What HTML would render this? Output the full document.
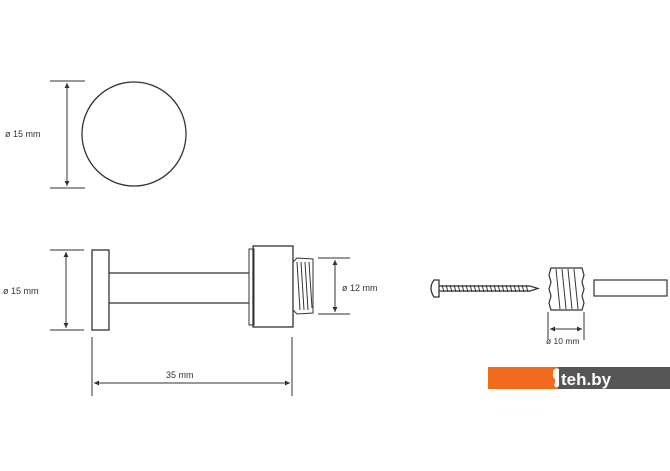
<!DOCTYPE html>
<html><head><style>
html,body{margin:0;padding:0;background:#fff;width:670px;height:471px;overflow:hidden}
svg{display:block}
text{font-family:"Liberation Sans",sans-serif;fill:#333}
</style></head><body>
<svg width="670" height="471" viewBox="0 0 670 471" xmlns="http://www.w3.org/2000/svg">
<defs>
<marker id="a" viewBox="0 0 6 6" refX="6" refY="3" markerWidth="5" markerHeight="5" orient="auto-start-reverse"><path d="M0,0L6,3L0,6z" fill="#333"/></marker>
</defs>
<g stroke="#333" fill="none" stroke-width="1">
<circle cx="134" cy="134" r="52" stroke-width="1.3"/>
<line x1="50" y1="81" x2="85" y2="81"/>
<line x1="50" y1="188" x2="85" y2="188"/>
<line x1="67" y1="83" x2="67" y2="186" marker-start="url(#a)" marker-end="url(#a)"/>
<rect x="92" y="250" width="17" height="80" stroke-width="1.3"/>
<line x1="109" y1="273" x2="249" y2="273" stroke-width="1.3"/>
<line x1="109" y1="303" x2="249" y2="303" stroke-width="1.3"/>
<rect x="249" y="249" width="5" height="76"/>
<rect x="253" y="246" width="40" height="81" stroke-width="1.3"/>
<path d="M293,262 L297,258 L313,259 L313,313 L297,314 L293,310 Z"/>
<path d="M297,262 L300,310 M301,262 L304,310 M305,262 L308,310 M309,262 L312,308"/>
<line x1="50" y1="250" x2="84" y2="250"/>
<line x1="50" y1="330" x2="84" y2="330"/>
<line x1="66" y1="252" x2="66" y2="328" marker-start="url(#a)" marker-end="url(#a)"/>
<line x1="318" y1="258" x2="350" y2="258"/>
<line x1="318" y1="314" x2="350" y2="314"/>
<line x1="335" y1="260" x2="335" y2="312" marker-start="url(#a)" marker-end="url(#a)"/>
<line x1="92" y1="337" x2="92" y2="396"/>
<line x1="292" y1="337" x2="292" y2="396"/>
<line x1="94" y1="383" x2="290" y2="383" marker-start="url(#a)" marker-end="url(#a)"/>
<path d="M434,280 Q428,288 434,297 L439,297 L439,280 Z" stroke-width="1.3"/>
<path d="M439,286 L530,286 L538,288.5 L530,291 L439,291" stroke-width="1.2"/>
<path d="M442,285 L444,292 M446,285 L448,292 M450,285 L452,292 M454,285 L456,292 M458,285 L460,292 M462,285 L464,292 M466,285 L468,292 M470,285 L472,292 M474,285 L476,292 M478,285 L480,292 M482,285 L484,292 M486,285 L488,292 M490,285 L492,292 M494,285 L496,292 M498,285 L500,292 M502,285 L504,292 M506,285 L508,292 M510,285 L512,292 M514,285 L516,292 M518,285 L520,292 M522,285 L524,292 M526,285 L528,292"/>
<path d="M551,268 L582,268 L584,275 L582,282 L584,289 L582,296 L584,303 L582,310 L551,310 L549,303 L551,296 L549,289 L551,282 L549,275 Z" stroke-width="1.2"/>
<path d="M556,269 L560,309 M562,269 L566,309 M568,269 L572,309 M574,269 L578,309"/>
<rect x="594" y="280" width="73" height="16" stroke-width="1.2"/>
<line x1="548" y1="312" x2="548" y2="340"/>
<line x1="584" y1="312" x2="584" y2="340"/>
<line x1="550" y1="329" x2="582" y2="329" marker-start="url(#a)" marker-end="url(#a)"/>
</g>
<text x="5" y="137" font-size="9">ø 15 mm</text>
<text x="3" y="294" font-size="9">ø 15 mm</text>
<text x="342" y="291" font-size="9">ø 12 mm</text>
<text x="166" y="378" font-size="9">35 mm</text>
<text x="546" y="344" font-size="8.5">ø 10 mm</text>
<rect x="488" y="367" width="70" height="22" fill="#f26a1b"/>
<rect x="558" y="367" width="112" height="22" fill="#555"/>
<path d="M553,371 Q556,367 559,369 L559,386 Q556,389 554,385 Q557,380 553,377 Z" fill="#fff"/>
<text x="561" y="385" font-size="17" font-weight="bold" style="fill:#fff">teh.by</text>
</svg>
</body></html>
